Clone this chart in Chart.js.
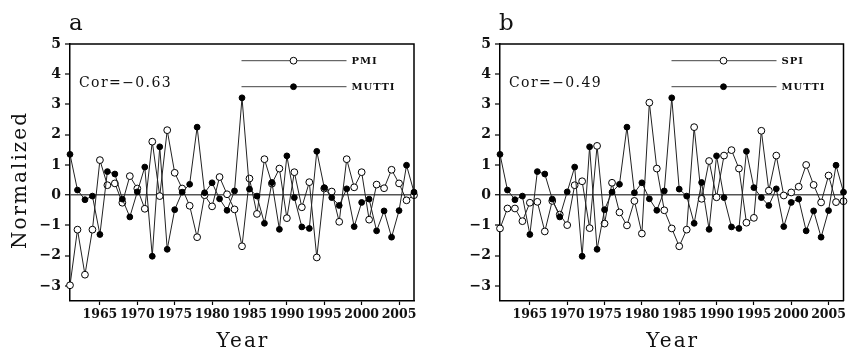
<!DOCTYPE html>
<html>
<head>
<meta charset="utf-8">
<script src="https://cdn.jsdelivr.net/npm/chart.js@4.4.1/dist/chart.umd.min.js"></script>
<style>
  html, body { margin: 0; padding: 0; background: #fff; }
  #wrap { position: relative; width: 851px; height: 351px; }
  canvas { position: absolute; top: 0; }
  #chartA { left: 0; }
  #chartB { left: 430px; }
</style>
</head>
<body>
<div id="wrap">
  <canvas id="chartA" width="430" height="351"></canvas>
  <canvas id="chartB" width="421" height="351"></canvas>
</div>
<script>
const years = [1961, 1962, 1963, 1964, 1965, 1966, 1967, 1968, 1969, 1970,
  1971, 1972, 1973, 1974, 1975, 1976, 1977, 1978, 1979, 1980,
  1981, 1982, 1983, 1984, 1985, 1986, 1987, 1988, 1989, 1990,
  1991, 1992, 1993, 1994, 1995, 1996, 1997, 1998, 1999, 2000,
  2001, 2002, 2003, 2004, 2005, 2006, 2007];

const mutti = [1.35, 0.17, -0.15, -0.03, -1.30, 0.78, 0.70, -0.13, -0.72, 0.11,
  0.93, -2.02, 1.60, -1.79, -0.48, 0.10, 0.36, 2.25, 0.08, 0.41,
  -0.12, -0.50, 0.14, 3.22, 0.20, -0.03, -0.93, 0.42, -1.13, 1.30,
  -0.08, -1.05, -1.10, 1.45, 0.25, -0.08, -0.34, 0.21, -1.04, -0.24,
  -0.13, -1.18, -0.52, -1.39, -0.51, 0.99, 0.10];

const pmi = [-2.98, -1.14, -2.63, -1.14, 1.16, 0.33, 0.39, -0.25, 0.63, 0.22,
  -0.45, 1.77, -0.03, 2.15, 0.74, 0.22, -0.35, -1.39, 0.00, -0.37,
  0.60, 0.03, -0.47, -1.69, 0.55, -0.62, 1.19, 0.38, 0.88, -0.76,
  0.76, -0.40, 0.43, -2.06, 0.22, 0.12, -0.88, 1.19, 0.26, 0.76,
  -0.81, 0.35, 0.23, 0.84, 0.39, -0.17, 0.00];

const spi = [-1.10, -0.44, -0.44, -0.86, -0.25, -0.22, -1.20, -0.19, -0.64, -0.99,
  0.33, 0.46, -1.09, 1.63, -0.94, 0.41, -0.57, -1.00, -0.19, -1.27,
  3.06, 0.88, -0.50, -1.10, -1.69, -1.14, 2.25, -0.12, 1.13, -0.07,
  1.31, 1.49, 0.88, -0.91, -0.75, 2.13, 0.15, 1.31, -0.01, 0.09,
  0.28, 1.00, 0.34, -0.24, 0.65, -0.23, -0.20];

const xTicks = [1965, 1970, 1975, 1980, 1985, 1990, 1995, 2000, 2005];
const yTicks = [-3, -2, -1, 0, 1, 2, 3, 4, 5];

const serif = "'DejaVu Serif', serif";

function toPoints(vals) {
  return vals.map((v, i) => ({ x: years[i], y: v }));
}

// frame, panel letter, correlation note, legend and axis titles
const panelText = {
  id: "panelText",
  afterDraw(chart, args, opts) {
    const ctx = chart.ctx;
    const a = chart.chartArea;
    ctx.save();

    ctx.strokeStyle = "#000";
    ctx.lineWidth = 1.5;
    ctx.beginPath();
    ctx.moveTo(a.left, a.top);
    ctx.lineTo(a.right, a.top);
    ctx.lineTo(a.right, a.bottom);
    ctx.stroke();

    ctx.fillStyle = "#111";
    ctx.textAlign = "left";
    ctx.textBaseline = "alphabetic";
    ctx.font = "23px " + serif;
    ctx.fillText(opts.letter, a.left - 1, 30);

    ctx.font = "14px " + serif;
    ctx.letterSpacing = "1.4px";
    ctx.fillText(opts.cor, a.left + 9, a.top + 43);

    // legend
    const rows = [
      { name: opts.name, fill: "#fff", r: 3.4, y: a.top + 16.7 },
      { name: "MUTTI", fill: "#000", r: 2.9, y: a.top + 42.7 }
    ];
    rows.forEach(row => {
      ctx.strokeStyle = "#444";
      ctx.lineWidth = 1;
      ctx.beginPath();
      ctx.moveTo(a.left + 171.5, row.y);
      ctx.lineTo(a.left + 276.5, row.y);
      ctx.stroke();
      ctx.beginPath();
      ctx.arc(a.left + 223.5, row.y, row.r, 0, Math.PI * 2);
      ctx.fillStyle = row.fill;
      ctx.fill();
      ctx.strokeStyle = "#000";
      ctx.stroke();
      ctx.fillStyle = "#111";
      ctx.font = "bold 10px " + serif;
      ctx.letterSpacing = "1px";
      ctx.textBaseline = "middle";
      ctx.fillText(row.name, a.left + 281.5, row.y + 0.5);
    });

    ctx.textBaseline = "alphabetic";
    ctx.textAlign = "center";
    ctx.font = "20px " + serif;
    ctx.letterSpacing = "2px";
    ctx.fillText("Year", (a.left + a.right) / 2 + 1, 347);

    if (opts.yTitle) {
      ctx.translate(26, 180);
      ctx.rotate(-Math.PI / 2);
      ctx.fillText(opts.yTitle, 0, 0);
    }
    ctx.restore();
  }
};

function makeChart(canvasId, name, values, cor, letter, yTitle, rightPad) {
  return new Chart(document.getElementById(canvasId), {
    type: "line",
    data: {
      datasets: [
        {
          label: "MUTTI",
          data: toPoints(mutti),
          order: 0,
          borderColor: "#222",
          borderWidth: 1,
          pointRadius: 2.9,
          pointBackgroundColor: "#000",
          pointBorderColor: "#000",
          pointBorderWidth: 1,
          tension: 0,
          clip: false
        },
        {
          label: name,
          data: toPoints(values),
          order: 1,
          borderColor: "#222",
          borderWidth: 1,
          pointRadius: 3.4,
          pointBackgroundColor: "#fff",
          pointBorderColor: "#000",
          pointBorderWidth: 1,
          tension: 0,
          clip: false
        }
      ]
    },
    options: {
      responsive: false,
      animation: false,
      devicePixelRatio: 1,
      layout: { padding: { top: 44, right: rightPad, bottom: 0, left: 0 } },
      plugins: {
        legend: { display: false },
        tooltip: { enabled: false },
        panelText: { name: name, cor: cor, letter: letter, yTitle: yTitle }
      },
      scales: {
        x: {
          type: "linear",
          min: 1961,
          max: 2007,
          afterBuildTicks: s => { s.ticks = xTicks.map(v => ({ value: v })); },
          afterFit: s => { s.height = 50; },
          grid: { drawOnChartArea: false, tickLength: 4, tickColor: "#000", tickWidth: 1.2 },
          border: { color: "#000", width: 1.5 },
          ticks: {
            color: "#111",
            padding: 2,
            maxRotation: 0,
            autoSkip: false,
            font: { family: serif, weight: "bold", size: 12.5 },
            callback: v => String(v)
          }
        },
        y: {
          min: -3.5,
          max: 5,
          afterBuildTicks: s => { s.ticks = yTicks.map(v => ({ value: v })); },
          afterFit: s => { s.width = 70; },
          grid: {
            drawOnChartArea: true,
            color: c => (c.tick && c.tick.value === 0 ? "#555" : "rgba(0,0,0,0)"),
            lineWidth: c => (c.tick && c.tick.value === 0 ? 1.5 : 0),
            tickLength: 5,
            tickColor: "#000",
            tickWidth: 1.2
          },
          border: { color: "#000", width: 1.5 },
          ticks: {
            color: "#111",
            padding: 4,
            font: { family: serif, weight: "bold", size: 14 },
            callback: v => String(v).replace("-", "\u2212")
          }
        }
      }
    },
    plugins: [panelText]
  });
}

document.addEventListener("DOMContentLoaded", () => {
  makeChart("chartA", "PMI", pmi, "Cor=\u22120.63", "a", "Normalized", 16);
  makeChart("chartB", "SPI", spi, "Cor=\u22120.49", "b", null, 7.5);
});
</script>
</body>
</html>
